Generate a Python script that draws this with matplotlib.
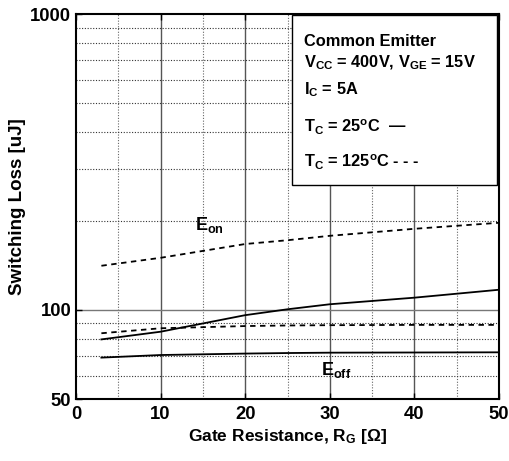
import numpy as np
import matplotlib
matplotlib.use('Agg')
from matplotlib import pyplot as plt

plt.rcParams['font.family'] = 'Liberation Sans'
plt.rcParams['font.weight'] = 'bold'
plt.rcParams['mathtext.fontset'] = 'custom'
plt.rcParams['mathtext.rm'] = 'Liberation Sans:bold'
plt.rcParams['mathtext.bf'] = 'Liberation Sans:bold'
plt.rcParams['mathtext.it'] = 'Liberation Sans:bold'
plt.rcParams['mathtext.default'] = 'bf'

# gate resistance (ohm)
rg = [3, 10, 20, 25, 30, 40, 50]
# switching losses (uJ)
eon_25 = [79.5, 84.4, 96, 100.5, 104.5, 110, 117]
eon_125 = [141, 150, 167, 172, 178, 188, 197]
eoff_25 = [69, 70.4, 71.2, 71.5, 71.7, 71.8, 71.9]
eoff_125 = [83.4, 86.7, 88.2, 88.6, 88.8, 89, 89]

fig = plt.figure(figsize=(5.1, 4.61), dpi=100)
ax = fig.add_axes([76/510, 1-399/461, 423/510, 385/461])

ax.set_yscale('log')
ax.set_xlim(0, 50)
ax.set_ylim(50, 1000)

# grid lines
for x in [10, 20, 30, 40]:
    ax.axvline(x, color='#555555', lw=1.0, zorder=1)
for x in [5, 15, 25, 35, 45]:
    ax.axvline(x, color='#666666', lw=0.8, ls=(0, (1, 1.5)), zorder=1)
ax.axhline(100, color='#777777', lw=1.0, zorder=1)
for y in [60, 70, 80, 90, 200, 300, 400, 500, 600, 700, 800, 900]:
    ax.axhline(y, color='#333333', lw=0.8, ls=(0, (1, 1.5)), zorder=1)

ax.plot(rg, eon_25, color='k', lw=1.3, zorder=3)
ax.plot(rg, eoff_25, color='k', lw=1.3, zorder=3)
ax.plot(rg, eon_125, color='k', lw=1.3, ls=(0, (3, 2.5)), zorder=3)
ax.plot(rg, eoff_125, color='k', lw=1.3, ls=(0, (3, 2.5)), zorder=3)

ax.text(15.8, 194, r'E$_{on}$', fontsize=13, ha='center', va='center')
ax.text(30.8, 62.5, r'E$_{off}$', fontsize=13, ha='center', va='center')

ax.set_xticks([0, 10, 20, 30, 40, 50])
ax.set_yticks([50, 100, 1000])
ax.set_yticklabels(['50', '100', '1000'])
ax.yaxis.set_minor_locator(matplotlib.ticker.NullLocator())
ax.tick_params(direction='in', length=4, labelsize=13.3, width=1, top=True)
ax.tick_params(axis='x', pad=5)
for label in (ax.get_xticklabels() + ax.get_yticklabels()):
    label.set_fontweight('bold')
for s in ax.spines.values():
    s.set_linewidth(1.5)

ax.set_xlabel(r'Gate Resistance, R$_G$ [Ω]', fontsize=12.5, fontweight='bold')
ax.set_ylabel('Switching Loss [uJ]', fontsize=13.5, fontweight='bold')
ax.xaxis.set_label_coords(0.5, -0.097)
ax.yaxis.set_label_coords(-0.139, 0.5)
ax.xaxis.label.set_va('center')
ax.yaxis.label.set_va('center')

# condition box
ax.add_patch(plt.Rectangle((292/510, 1-185/461), 205/510, 170/461, transform=fig.transFigure,
                           facecolor='white', edgecolor='k', lw=1.0, zorder=4))
lines = [('Common Emitter', 42),
         (r'V$_{CC}$ = 400V, V$_{GE}$ = 15V', 63),
         (r'I$_C$ = 5A', 90),
         (r'T$_C$ = 25$^o$C  —', 127),
         (r'T$_C$ = 125$^o$C - - -', 162)]
for txt, yp in lines:
    fig.text(304/510, 1-yp/461, txt, fontsize=11.8, ha='left', va='center', zorder=5)

fig.savefig('out.png', dpi=100)
